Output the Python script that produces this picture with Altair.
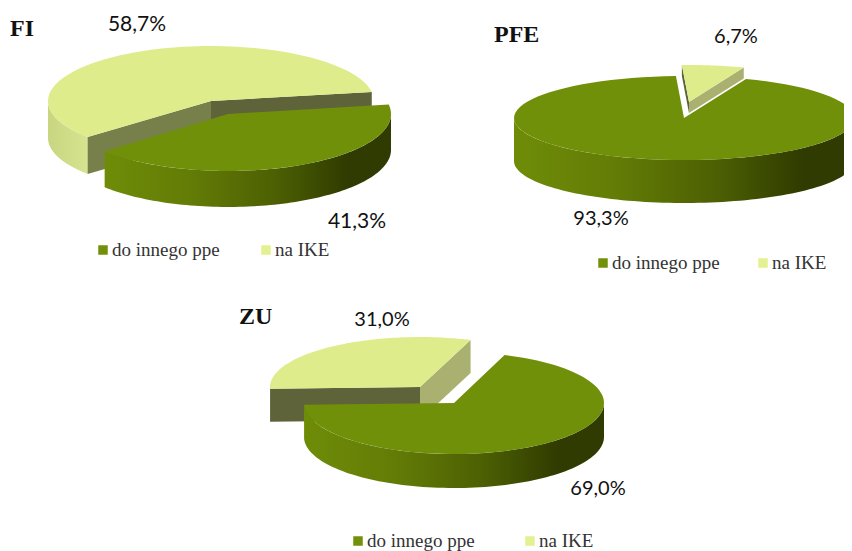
import altair as alt
import numpy as np
import pandas as pd

# ---- data ----
pies = ["FI", "PFE", "ZU"]
categories = ["do innego ppe", "na IKE"]
share_ppe = [41.3, 93.3, 69.0]
share_ike = [58.7, 6.7, 31.0]

# ---- layout (reference pixels) ----
first_angle = [9.5, 68.6, 70.3]          # where the first slice starts, degrees ccw from east
green_geo = [(228, 114, 163, 57, 36), (684, 118, 170, 42, 43), (454, 403, 150, 51, 34)]
yellow_geo = [(211, 101, 163, 55, 37), (689, 102, 150, 37, 11), (420, 387, 150, 50, 33)]
yellow_faces = [("#77804a", "#5f6339"), ("#5f6339", "#a9b070"), ("#5f6339", "#a9b070")]
green_on_top = [True, False, True]
title_pos = [(10, 29), (494, 35), (239, 317)]
ppe_label_pos = [(357, 222), (601, 219), (598, 489)]
ike_label_pos = [(137, 25), (736, 37), (382, 320)]
label_size = [21, 20, 20]
legend_pos = [((103, 250), (266, 250)), ((603, 263), (763, 263)), ((358, 541), (530, 541))]

GREEN = "#71900a"
YELLOW = "#dfec8c"
LEG_GREEN = "#72900a"
LEG_YELLOW = "#e4f191"

x_scale = alt.Scale(domain=[8, 844], nice=False, zero=False)
y_scale = alt.Scale(domain=[551, 8], nice=False, zero=False)


def arc(cx, cy, rx, ry, a0, a1, dy=0):
    t = np.radians(np.linspace(a0, a1, 90))
    return list(zip(cx + rx * np.cos(t), cy - ry * np.sin(t) + dy))


def poly(points, **mark):
    pts = list(points) + [points[0]]
    df = pd.DataFrame(pts, columns=["x", "y"])
    df["i"] = range(len(df))
    return (
        alt.Chart(df)
        .mark_line(strokeWidth=0, filled=True, clip=True, **mark)
        .encode(
            x=alt.X("x:Q", scale=x_scale, axis=None),
            y=alt.Y("y:Q", scale=y_scale, axis=None),
            order=alt.Order("i:Q"),
        )
    )


def gradient(stops):
    return alt.Gradient(
        gradient="linear", x1=0, y1=0, x2=1, y2=0,
        stops=[alt.GradientStop(offset=o, color=c) for o, c in stops],
    )


GREEN_WALL = gradient([(0, "#6f8c08"), (0.3, "#637c06"), (0.6, "#4c5f03"), (0.85, "#2f3b00"), (1, "#2f3b00")])
YELLOW_WALL = gradient([(0, "#c8d682"), (1, "#d6e48f")])


def lower_part(a_hi, a_lo):
    """Clockwise span a_hi -> a_lo, clipped to the front half (180..360 deg)."""
    spans = []
    for k in (0, -360, 360):
        hi, lo = min(a_hi + k, 360), max(a_lo + k, 180)
        if hi > lo:
            spans.append((hi, lo))
    return spans


def slice_layers(geo, a_start, span, top, wall, faces=None):
    cx, cy, rx, ry, d = geo
    a_end = a_start - span
    out = []
    for hi, lo in lower_part(a_start, a_end):
        upper = arc(cx, cy, rx, ry, hi, lo)
        lower = arc(cx, cy, rx, ry, lo, hi, d)
        out.append(poly(upper + lower, fill=wall))
    if faces:
        for a, colour in zip((a_start, a_end), faces):
            e = arc(cx, cy, rx, ry, a, a)[0]
            out.append(poly([(cx, cy), e, (e[0], e[1] + d), (cx, cy + d)], fill=colour))
    out.append(poly([(cx, cy)] + arc(cx, cy, rx, ry, a_start, a_end), fill=top))
    return out


layers = []
for n in range(len(pies)):
    span_g = share_ppe[n] * 3.6
    span_y = share_ike[n] * 3.6
    green = slice_layers(green_geo[n], first_angle[n], span_g, GREEN, GREEN_WALL)
    yellow = slice_layers(yellow_geo[n], first_angle[n] - span_g, span_y, YELLOW, YELLOW_WALL, yellow_faces[n])
    layers += (yellow + green) if green_on_top[n] else (green + yellow)


def pct(v):
    return f"{v:.1f}%".replace(".", ",")


def text_layer(rows, align, **mark):
    df = pd.DataFrame(rows, columns=["x", "y", "t"])
    return (
        alt.Chart(df)
        .mark_text(align=align, baseline="middle", **mark)
        .encode(
            x=alt.X("x:Q", scale=x_scale, axis=None),
            y=alt.Y("y:Q", scale=y_scale, axis=None),
            text="t:N",
        )
    )


for i in range(3):
    rows = [(*ppe_label_pos[i], pct(share_ppe[i])), (*ike_label_pos[i], pct(share_ike[i]))]
    layers.append(text_layer(rows, "center", font="Lato", fontSize=label_size[i], color="#111111"))
layers.append(
    text_layer([(*title_pos[i], pies[i]) for i in range(3)], "left",
               font="Liberation Serif", fontSize=24, fontWeight="bold", color="#111111")
)
legend_rows = []
sq_rows = []
for pair in legend_pos:
    for (x, y), cat in zip(pair, categories):
        legend_rows.append((x + 9, y, cat))
        sq_rows.append((x, y, cat))
layers.append(text_layer(legend_rows, "left", font="Liberation Serif", fontSize=19, color="#333333"))
layers.append(
    alt.Chart(pd.DataFrame(sq_rows, columns=["x", "y", "c"]))
    .mark_square(size=90, opacity=1)
    .encode(
        x=alt.X("x:Q", scale=x_scale, axis=None),
        y=alt.Y("y:Q", scale=y_scale, axis=None),
        color=alt.Color("c:N", scale=alt.Scale(domain=categories, range=[LEG_GREEN, LEG_YELLOW]), legend=None),
    )
)

chart = (
    alt.layer(*layers)
    .properties(width=836, height=543, padding=0, autosize=alt.AutoSizeParams(type="none"), background="white")
    .configure_view(stroke=None)
)
chart.save("out.html", embed_options={"renderer": "svg", "actions": False})
